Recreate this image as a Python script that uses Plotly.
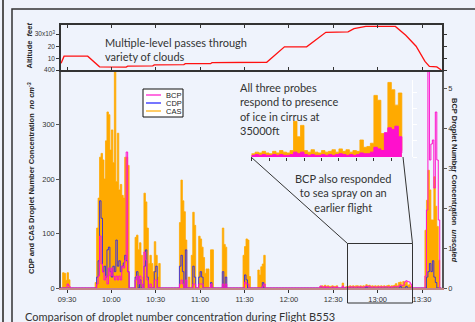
import plotly.graph_objects as go
import pandas as pd

DAY = "2024-01-01 "
series_start = "09:26"
inset_start = "12:40"

# CAS droplet number concentration (no cm-3), 1-minute values from 09:26
cas = [
    0, 28, 27, 14,                                   # 09:26
    28, 15, 0, 0, 0, 0, 0, 0, 0, 0,                  # 09:30
    0, 0, 0, 0, 0, 0, 0, 0, 0, 10,                   # 09:40
    110, 165, 240, 247, 235, 200, 270, 323, 318, 253,  # 09:50
    290, 230, 420, 195, 284, 180, 190, 170, 165, 240,  # 10:00
    240, 225, 0, 0, 0, 0, 93, 97, 70, 83,            # 10:10
    60, 20, 174, 158, 110, 45, 60, 45, 30, 85,       # 10:20
    60, 20, 45, 0, 0, 0, 0, 0, 0, 0,                 # 10:30
    0, 0, 0, 0, 0, 0, 120, 198, 160, 140,            # 10:40
    88, 0, 20, 0, 60, 139, 115, 0, 0, 95,            # 10:50
    90, 75, 56, 27, 35, 35, 0, 70, 70, 0,            # 11:00
    0, 0, 0, 0, 0, 110, 80, 75, 0, 0,                # 11:10
    0, 0, 0, 0, 0, 0, 0, 0, 0, 60,                   # 11:20
    76, 90, 88, 21, 0, 0, 0, 0, 0, 33,               # 11:30
    24, 39, 44, 60, 0, 0, 0, 0, 0, 0,                # 11:40
    0, 0, 0, 0, 0, 0, 0, 0, 0, 0,                    # 11:50
    0, 0, 0, 0, 0, 0, 0, 0, 0, 0,                    # 12:00
    0, 0, 0, 0, 0, 0, 0, 0, 0, 0,                    # 12:10
    0, 3, 4, 3, 5, 3, 4, 3, 3, 4,                    # 12:20
    3, 3, 4, 0, 0, 0, 9, 0, 2, 3,                    # 12:30
    3, 4, 3, 4, 3, 4, 4, 3, 4, 3,                    # 12:40
    4, 3, 6, 4, 5, 3, 4, 3, 4, 3,                    # 12:50
    4, 3, 4, 3, 4, 3, 4, 5, 3, 4,                    # 13:00
    4, 5, 8, 4, 10, 11, 5, 12, 8, 11,                # 13:10
    5, 6, 3, 0, 0, 0, 0, 0, 0, 0,                    # 13:20
    0, 0, 106, 161, 216, 180, 125, 125, 204, 150,    # 13:30
    113, 51, 0, 0,                                   # 13:40
]

# CDP droplet number concentration (no cm-3)
cdp = [
    0, 0, 0, 0,
    0, 0, 0, 0, 0, 0, 0, 0, 0, 0,
    0, 0, 0, 0, 0, 0, 0, 0, 0, 0,
    20, 50, 160, 128, 30, 40, 20, 70, 75, 30,
    20, 40, 30, 88, 40, 50, 30, 40, 46, 60,
    50, 30, 0, 0, 0, 0, 20, 30, 0, 15,
    0, 0, 40, 70, 20, 0, 0, 0, 0, 30,
    40, 0, 0, 0, 0, 0, 0, 0, 0, 0,
    0, 0, 0, 0, 0, 0, 40, 60, 30, 0,
    70, 0, 0, 0, 0, 40, 20, 0, 0, 20,
    30, 20, 0, 0, 0, 0, 0, 10, 0, 0,
    0, 0, 0, 0, 0, 30, 0, 20, 0, 0,
    0, 0, 0, 0, 0, 0, 0, 0, 0, 0,
    24, 15, 0, 0, 0, 0, 0, 0, 0, 0,
    0, 0, 10, 0, 0, 0, 0, 0, 0, 0,
    0, 0, 0, 0, 0, 0, 0, 0, 0, 0,
    0, 0, 0, 0, 0, 0, 0, 0, 0, 0,
    0, 0, 0, 0, 0, 0, 0, 0, 0, 0,
    0, 0, 0, 0, 0, 0, 0, 0, 0, 0,
    0, 0, 0, 0, 0, 0, 0, 0, 0, 0,
    0, 0, 0, 0, 0, 0, 0, 0, 0, 0,
    0, 0, 2, 0, 0, 0, 0, 0, 0, 0,
    0, 0, 0, 0, 0, 0, 0, 0, 0, 0,
    0, 0, 0, 0, 0, 3, 0, 0, 0, 3,
    0, 0, 0, 0, 0, 0, 0, 0, 0, 0,
    0, 0, 0, 20, 30, 45, 30, 50, 20, 10,
    0, 0, 0, 0,
]

# BCP droplet number concentration (unscaled)
bcp = [
    0, 0, 0, 0,
    0.1, 0.05, 0, 0, 0, 0, 0, 0, 0, 0,
    0, 0, 0, 0, 0, 0, 0, 0, 0, 0,
    0.1, 0.3, 1.3, 0.6, 0.4, 0.2, 0.3, 0.1, 0.5, 0.3,
    0.5, 0.3, 0.2, 0.3, 0.2, 0.3, 0.2, 0.55, 0.5, 0.7,
    3.4, 0.4, 0, 0, 0, 0, 0.2, 0.3, 0.1, 0.3,
    0.1, 0, 0.9, 0.7, 0.2, 0, 0.1, 0, 0, 0.2,
    0.2, 0, 0, 0, 0, 0, 0, 0, 0, 0,
    0, 0, 0, 0, 0, 0, 0.1, 0.2, 0.1, 0,
    0.2, 0, 0, 0, 0, 0.1, 0.1, 0, 0, 0.1,
    0.1, 0.1, 0, 0, 0, 0, 0, 0.1, 0, 0,
    0, 0, 0, 0, 0, 0.1, 0, 0.1, 0, 0,
    0, 0, 0, 0, 0, 0, 0, 0, 0, 0,
    0.15, 0.1, 0.1, 0, 0, 0, 0, 0, 0, 0,
    0, 0, 0.05, 0.1, 0, 0, 0, 0, 0, 0,
    0, 0, 0, 0, 0, 0, 0, 0, 0, 0,
    0, 0, 0, 0, 0, 0, 0, 0, 0, 0,
    0, 0, 0, 0, 0, 0, 0, 0, 0, 0,
    0, 0.05, 0.03, 0, 0.04, 0, 0.03, 0, 0, 0.03,
    0.02, 0, 0.03, 0, 0, 0, 0.05, 0, 0, 0.02,
    0.02, 0.03, 0.02, 0.03, 0.02, 0.02, 0.03, 0.02, 0.03, 0.02,
    0.02, 0.03, 0.05, 0.03, 0.05, 0.02, 0.02, 0.03, 0.02, 0.02,
    0.03, 0.02, 0.03, 0.02, 0.03, 0.03, 0.03, 0.02, 0.03, 0.02,
    0.03, 0.04, 0.04, 0.03, 0.05, 0.08, 0.06, 0.07, 0.15, 0.18,
    0.16, 0.15, 0.1, 0, 0, 0, 0, 0, 0, 0,
    0, 0, 0.3, 1.95, 5.8, 3.2, 3.6, 3.7, 2.5, 4.4,
    3.2, 1.7, 0, 0,
]

# Altitude profile (feet)
alt_time = ["09:26", "09:28", "09:44", "09:52", "10:10", "10:11", "10:28", "10:29",
            "10:49", "10:50", "11:07", "11:08", "11:45", "11:57", "12:12", "12:25",
            "12:40", "12:44", "12:52", "13:12", "13:19", "13:26", "13:32", "13:35",
            "13:40", "13:43"]
alt_ft = [5900, 11800, 11800, 3000, 2800, 3600, 3800, 4600,
          4800, 5600, 5600, 6400, 6800, 19500, 19500, 31500,
          31800, 34500, 36300, 36300, 29000, 20000, 7500, 3300,
          3000, 400]

# Inset (magnified cirrus section, 1-minute values from 12:40)
inset_cas = [4, 6, 5, 7, 5, 4, 7, 5, 8, 6,
             5, 8, 44, 25, 39, 8, 6, 9, 6, 5,
             8, 6, 7, 9, 6, 10, 7, 9, 6, 8,
             7, 21, 12, 13, 17, 76, 70, 29, 25, 92,
             83, 64, 79, 8]
inset_bcp = [2, 3, 2, 3, 2, 2, 3, 2, 3, 2,
             2, 3, 6, 4, 6, 3, 2, 3, 2, 2,
             3, 2, 3, 2, 3, 4, 3, 2, 3, 2,
             3, 5, 4, 4, 6, 12, 10, 8, 30, 36,
             34, 38, 25, 5]

tick_labels = ["09:30", "10:00", "10:30", "11:00", "11:30", "12:00", "12:30", "13:00", "13:30"]
left_ticks = [0, 100, 200, 300]
right_ticks = [0, 1, 2, 3, 4, 5]
alt_tickvals = [400, 10000, 20000, 30000]
alt_ticktext = ["400", "10", "20", "30x10<sup>3</sup>"]
legend_names = ["BCP", "CDP", "CAS"]

CAS_C = "#ffaa00"
CDP_C = "#1a1aff"
BCP_C = "#ff10cc"
ALT_C = "#ff1010"
BG = "#eff3fc"
TXT = "#333333"
AX = "#555555"

# ---- geometry (pixels -> paper) ----
W, H = 475, 322
ML, MR, MT, MB = 61, 33, 25, 34
PW, PH = W - ML - MR, H - MT - MB


def px(x):
    return (x - ML) / PW


def py(y):
    return 1 - (y - MT) / PH


split = py(70)

t = pd.date_range(DAY + series_start, periods=len(cas), freq="min")
ti = pd.date_range(DAY + inset_start, periods=len(inset_cas), freq="min")
alt_t = [DAY + s for s in alt_time]
tick_vals = [DAY + s for s in tick_labels]

fig = go.Figure()

# main panel
fig.add_trace(go.Scatter(x=t, y=cas, mode="lines", line=dict(color=CAS_C, width=0.8, shape="hv"),
                         fill="tozeroy", fillcolor=CAS_C, xaxis="x", yaxis="y",
                         showlegend=False, hoverinfo="skip"))
fig.add_trace(go.Scatter(x=t, y=bcp, mode="lines", line=dict(color=BCP_C, width=1.0, shape="hv"),
                         xaxis="x", yaxis="y2", showlegend=False, hoverinfo="skip"))
fig.add_trace(go.Scatter(x=t, y=cdp, mode="lines", line=dict(color=CDP_C, width=0.8, shape="hv"),
                         xaxis="x", yaxis="y", showlegend=False, hoverinfo="skip"))

# altitude panel
fig.add_trace(go.Scatter(x=alt_t, y=alt_ft, mode="lines", line=dict(color=ALT_C, width=1.3),
                         xaxis="x2", yaxis="y3", showlegend=False, hoverinfo="skip"))

# inset
fig.add_trace(go.Scatter(x=ti, y=inset_cas, mode="lines", line=dict(color=CAS_C, width=0.8, shape="hv"),
                         fill="tozeroy", fillcolor=CAS_C, xaxis="x3", yaxis="y4",
                         showlegend=False, hoverinfo="skip"))
fig.add_trace(go.Scatter(x=ti, y=inset_bcp, mode="lines", line=dict(color=BCP_C, width=1, shape="hv"),
                         fill="tozeroy", fillcolor=BCP_C, xaxis="x3", yaxis="y4",
                         showlegend=False, hoverinfo="skip"))

tickfont = dict(family="Liberation Sans, Arial", size=7.5, color=TXT)
xrange = [DAY + "09:25:56", DAY + "13:43:31"]

fig.update_layout(
    width=W, height=H,
    margin=dict(l=ML, r=MR, t=MT, b=MB, autoexpand=False),
    paper_bgcolor=BG, plot_bgcolor=BG,
    showlegend=False,
    font=dict(family="Liberation Sans, Arial", color=TXT),
    xaxis=dict(domain=[0, 1], anchor="y", type="date", range=xrange,
               tickvals=tick_vals, ticktext=tick_labels, ticks="outside", ticklen=3,
               tickcolor="#333", tickfont=tickfont, showline=True, linecolor="#c48686",
               linewidth=2, showgrid=False, zeroline=False),
    yaxis=dict(domain=[0, split], anchor="x", range=[0, 400], tickvals=left_ticks,
               ticks="outside", ticklen=3, tickcolor=AX, tickfont=tickfont,
               showline=True, linecolor=AX, linewidth=1.5, showgrid=False, zeroline=False),
    yaxis2=dict(overlaying="y", side="right", anchor="x", range=[0, 5.45], tickvals=right_ticks,
                ticks="outside", ticklen=3, tickcolor=AX, tickfont=tickfont,
                showline=True, linecolor=AX, linewidth=1.5, showgrid=False, zeroline=False),
    xaxis2=dict(domain=[0, 1], anchor="y3", type="date", range=xrange, tickvals=tick_vals,
                showticklabels=False, ticks="inside", ticklen=3, tickcolor="#333",
                mirror="ticks", showline=True, linecolor="#333", linewidth=1.5,
                showgrid=False, zeroline=False),
    yaxis3=dict(domain=[split, 1], anchor="x2", range=[400, 37500], tickvals=alt_tickvals,
                ticktext=alt_ticktext, ticks="outside", ticklen=3, tickcolor="#333",
                tickfont=dict(family="Liberation Sans, Arial", size=6.5, color=TXT),
                mirror="ticks", showline=True, linecolor="#333", linewidth=1.5,
                showgrid=False, zeroline=False),
    xaxis3=dict(domain=[px(251), px(403)], anchor="y4", type="date",
                range=[DAY + "12:39:50", DAY + "13:23:20"], showticklabels=False,
                ticks="outside", ticklen=3, tickcolor="#333", tick0=DAY + "12:45",
                dtick=300000, showline=False, showgrid=False, zeroline=False),
    yaxis4=dict(domain=[py(157), py(80)], anchor="free", position=px(412), side="right",
                range=[0, 95], tickvals=[0, 20, 40, 60, 80], showticklabels=False,
                ticks="outside", ticklen=4, tickcolor="white", showline=True,
                linecolor="white", linewidth=1, showgrid=False, zeroline=False),
)

ann_font = dict(family="Lato, Open Sans", size=11, color=TXT)
title_font = dict(family="Liberation Sans, Arial", size=7.5, color="#222")
P = dict(xref="paper", yref="paper", showarrow=False)
annotations = [
    dict(text="Multiple-level passes through<br>variety of clouds", x=px(103), y=py(49),
         xanchor="left", yanchor="middle", align="left", font=ann_font, **P),
    dict(text="All three probes<br>respond to presence<br>of ice in cirrus at<br>35000ft",
         x=px(238), y=py(108.5), xanchor="left", yanchor="middle", align="left", font=ann_font, **P),
    dict(text="BCP also responded<br>to sea spray on an<br>earlier flight",
         x=px(343), y=py(192.5), xanchor="center", yanchor="middle", align="center", font=ann_font, **P),
    dict(text="Comparison of droplet number concentration during Flight B553",
         x=px(23), y=py(316), xanchor="left", yanchor="middle", align="left", font=ann_font, **P),
    dict(text="<b>CDP and CAS Droplet Number Concentration  <i>no cm<sup>-3</sup></i></b>",
         x=px(31), y=py(178), textangle=-90, xanchor="center", yanchor="middle", font=title_font, **P),
    dict(text="<b>Altitude  <i>feet</i></b>", x=px(29), y=py(45.5), textangle=-90,
         xanchor="center", yanchor="middle", font=title_font, **P),
    dict(text="<b>BCP Droplet Number Concentration  <i>unscaled</i></b>", x=px(455), y=py(180),
         textangle=90, xanchor="center", yanchor="middle", font=title_font, **P),
]
# manual legend
leg_font = dict(family="Liberation Sans, Arial", size=7.5, color="#222")
leg_colors = [BCP_C, CDP_C, CAS_C]
leg_rows = [95, 103, 111]
shapes = [
    dict(type="rect", xref="paper", yref="paper", x0=px(143), x1=px(183), y0=py(117), y1=py(89),
         line=dict(color="#111", width=1), fillcolor="white", layer="above"),
]
for name, col, row in zip(legend_names, leg_colors, leg_rows):
    shapes.append(dict(type="line", xref="paper", yref="paper", x0=px(146), x1=px(161),
                       y0=py(row), y1=py(row), line=dict(color=col, width=1.2), layer="above"))
    annotations.append(dict(text=name, x=px(164), y=py(row), xanchor="left", yanchor="middle",
                            font=leg_font, **P))

# zoom box and connector lines
box_col = "#333"
shapes += [
    dict(type="rect", xref="paper", yref="paper", x0=px(347.5), x1=px(412.5), y0=py(303), y1=py(243.5),
         line=dict(color=box_col, width=1), layer="above"),
    dict(type="line", xref="paper", yref="paper", x0=px(251), y0=py(157), x1=px(347.5), y1=py(243.5),
         line=dict(color=box_col, width=1), layer="above"),
    dict(type="line", xref="paper", yref="paper", x0=px(403), y0=py(157), x1=px(412.5), y1=py(243.5),
         line=dict(color=box_col, width=1), layer="above"),
    # outer frame
    dict(type="rect", xref="paper", yref="paper", x0=px(12), x1=px(490), y0=py(340), y1=py(9),
         line=dict(color="#333", width=1.5), layer="below"),
    dict(type="line", xref="paper", yref="paper", x0=px(3), x1=px(3), y0=py(340), y1=py(-10),
         line=dict(color="#555", width=2), layer="below"),
]

fig.update_layout(annotations=annotations, shapes=shapes)
fig.write_html("out.html", config={"displayModeBar": False},
               post_script="document.body.style.margin='0';document.body.style.overflow='hidden';")
